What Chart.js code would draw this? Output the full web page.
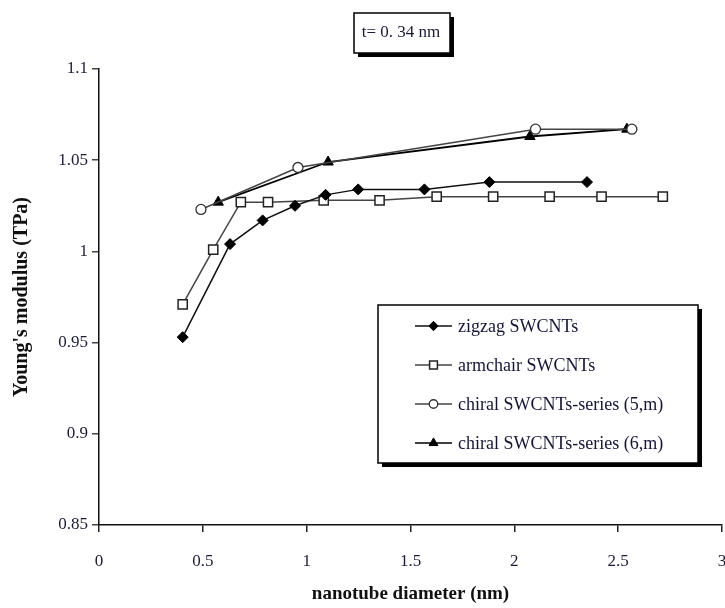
<!DOCTYPE html>
<html>
<head>
<meta charset="utf-8">
<script src="https://cdn.jsdelivr.net/npm/chart.js@4.4.0/dist/chart.umd.min.js"></script>
<style>
  html, body { margin: 0; padding: 0; background: #fff; overflow: hidden; }
  #wrap { width: 730px; height: 608px; position: relative; }
</style>
</head>
<body>
<div id="wrap"><canvas id="c" width="730" height="608"></canvas></div>
<script>
// Young's modulus (TPa) against nanotube diameter (nm), wall thickness t = 0.34 nm
const zigzagDiameter   = [0.403, 0.631, 0.788, 0.944, 1.091, 1.248, 1.567, 1.880, 2.350];
const zigzagModulus    = [0.953, 1.004, 1.017, 1.025, 1.031, 1.034, 1.034, 1.038, 1.038];

const armchairDiameter = [0.403, 0.550, 0.683, 0.814, 1.082, 1.351, 1.626, 1.898, 2.170, 2.420, 2.715];
const armchairModulus  = [0.971, 1.001, 1.027, 1.027, 1.028, 1.028, 1.030, 1.030, 1.030, 1.030, 1.030];

const chiral5Diameter  = [0.491, 0.958, 2.102, 2.566];
const chiral5Modulus   = [1.023, 1.046, 1.067, 1.067];

const chiral6Diameter  = [0.574, 1.103, 2.075, 2.542];
const chiral6Modulus   = [1.027, 1.049, 1.063, 1.067];

const seriesNames = [
  'zigzag SWCNTs',
  'armchair SWCNTs',
  'chiral SWCNTs-series (5,m)',
  'chiral SWCNTs-series (6,m)'
];

const xTicks = [0, 0.5, 1, 1.5, 2, 2.5, 3];
const yTicks = [0.85, 0.9, 0.95, 1, 1.05, 1.1];
const thicknessNote = 't= 0. 34 nm';

const pairs = (xs, ys) => xs.map((x, i) => ({ x: x, y: ys[i] }));

const SERIF = '"Liberation Serif", "Times New Roman", serif';
const LABEL_COLOR = '#1c1c38';

const datasets = [
  {
    label: seriesNames[0],
    data: pairs(zigzagDiameter, zigzagModulus),
    borderColor: '#111', borderWidth: 1.5,
    pointStyle: 'rectRot', pointRadius: 5.5,
    pointBackgroundColor: '#000', pointBorderColor: '#000', pointBorderWidth: 1
  },
  {
    label: seriesNames[1],
    data: pairs(armchairDiameter, armchairModulus),
    borderColor: '#444', borderWidth: 1.5,
    pointStyle: 'rect', pointRadius: 6.5,
    pointBackgroundColor: '#fff', pointBorderColor: '#222', pointBorderWidth: 1.5
  },
  {
    label: seriesNames[2],
    data: pairs(chiral5Diameter, chiral5Modulus),
    borderColor: '#444', borderWidth: 1.5,
    pointStyle: 'circle', pointRadius: 5,
    pointBackgroundColor: '#fff', pointBorderColor: '#333', pointBorderWidth: 1.3
  },
  {
    label: seriesNames[3],
    data: pairs(chiral6Diameter, chiral6Modulus),
    borderColor: '#000', borderWidth: 1.8,
    pointStyle: 'triangle', pointRadius: 6,
    pointBackgroundColor: '#000', pointBorderColor: '#000', pointBorderWidth: 1
  }
];

// Boxed note and boxed legend, both with a solid drop shadow
function shadowBox(ctx, x, y, w, h, off) {
  ctx.save();
  ctx.fillStyle = '#000';
  ctx.fillRect(x + off, y + off, w, h);
  ctx.fillStyle = '#fff';
  ctx.fillRect(x, y, w, h);
  ctx.strokeStyle = '#000';
  ctx.lineWidth = 1.5;
  ctx.strokeRect(x, y, w, h);
  ctx.restore();
}

const annotations = {
  id: 'annotations',
  afterDraw(chart) {
    const ctx = chart.ctx;

    // thickness note
    shadowBox(ctx, 354, 13, 96, 40, 4);
    ctx.save();
    ctx.fillStyle = '#1a1a3a';
    ctx.font = '17px ' + SERIF;
    ctx.textAlign = 'center';
    ctx.textBaseline = 'middle';
    ctx.fillText(thicknessNote, 401, 33);
    ctx.restore();

    // legend
    shadowBox(ctx, 378, 305, 320, 158, 4);
    const rowY = [326, 365, 404, 443];
    chart.data.datasets.forEach((ds, i) => {
      const y = rowY[i];
      ctx.save();
      ctx.strokeStyle = ds.borderColor;
      ctx.lineWidth = 1.6;
      ctx.beginPath();
      ctx.moveTo(415, y);
      ctx.lineTo(452, y);
      ctx.stroke();
      ctx.fillStyle = ds.pointBackgroundColor;
      ctx.strokeStyle = ds.pointBorderColor;
      ctx.lineWidth = ds.pointBorderWidth;
      Chart.helpers.drawPoint(ctx, {
        pointStyle: ds.pointStyle,
        radius: ds.pointRadius * 0.85,
        rotation: 0,
        borderWidth: ds.pointBorderWidth
      }, 433.5, y);
      ctx.fillStyle = '#15153a';
      ctx.font = '18px ' + SERIF;
      ctx.textAlign = 'left';
      ctx.textBaseline = 'middle';
      ctx.fillText(ds.label, 458, y + 1);
      ctx.restore();
    });
  }
};

new Chart(document.getElementById('c'), {
  type: 'line',
  data: { datasets: datasets },
  plugins: [annotations],
  options: {
    responsive: false,
    animation: false,
    devicePixelRatio: 1,
    layout: { padding: { top: 69, left: 0, right: 0, bottom: 0 } },
    elements: { line: { tension: 0, fill: false } },
    plugins: {
      legend: { display: false },
      title: { display: false },
      tooltip: { enabled: false }
    },
    scales: {
      x: {
        type: 'linear',
        min: 0, max: 3,
        afterBuildTicks: (scale) => { scale.ticks = xTicks.map(v => ({ value: v })); },
        afterFit: (scale) => { scale.height = 83; scale.paddingRight = 3; },
        border: { display: true, color: '#111', width: 1.5 },
        grid: { display: true, drawOnChartArea: false, drawTicks: true, tickLength: 7, tickColor: '#222', lineWidth: 1.5 },
        ticks: {
          padding: 19,
          color: LABEL_COLOR,
          font: { family: SERIF, size: 17 },
          maxRotation: 0,
          callback: (v) => String(+Number(v).toFixed(2))
        },
        title: {
          display: true,
          text: 'nanotube diameter (nm)',
          color: '#111',
          font: { family: SERIF, size: 19, weight: 'bold' },
          padding: { top: 0, bottom: 3 }
        }
      },
      y: {
        type: 'linear',
        min: 0.85, max: 1.1,
        afterBuildTicks: (scale) => { scale.ticks = yTicks.map(v => ({ value: v })); },
        afterFit: (scale) => { scale.width = 99; },
        border: { display: true, color: '#111', width: 1.5 },
        grid: { display: true, drawOnChartArea: false, drawTicks: true, tickLength: 7, tickColor: '#444', lineWidth: 1.5 },
        ticks: {
          padding: 4,
          color: LABEL_COLOR,
          font: { family: SERIF, size: 17 },
          callback: (v) => String(+Number(v).toFixed(2))
        },
        title: {
          display: true,
          text: "Young's modulus (TPa)",
          color: '#111',
          font: { family: SERIF, size: 20, weight: 'bold' },
          padding: { top: 10, bottom: 0 }
        }
      }
    }
  }
});
</script>
</body>
</html>
